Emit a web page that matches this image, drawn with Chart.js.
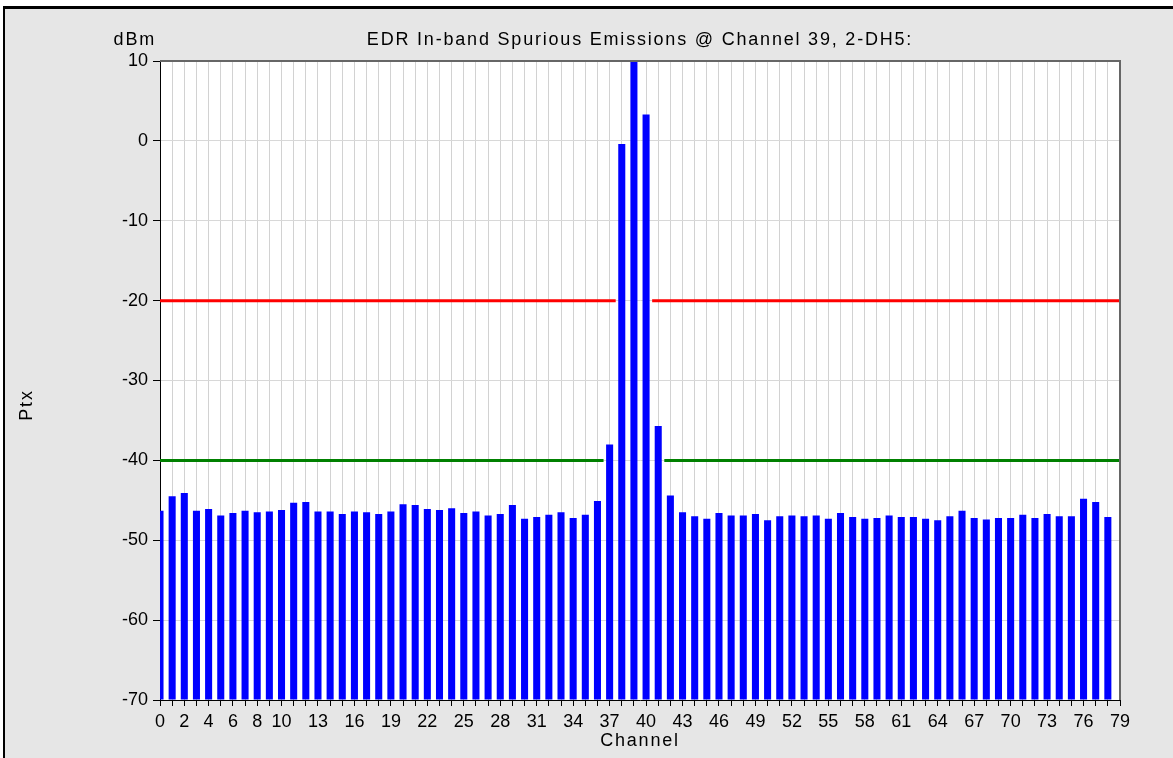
<!DOCTYPE html>
<html>
<head>
<meta charset="utf-8">
<title>EDR In-band Spurious Emissions</title>
<script src="https://cdn.jsdelivr.net/npm/chart.js@4.4.1/dist/chart.umd.min.js"></script>
<style>
    html, body { margin: 0; padding: 0; background: #fff; overflow: hidden; }
    #frame {
        position: absolute; left: 3px; top: 6px;
        width: 1200px; height: 800px;
        border-left: 2px solid #000; border-top: 3px solid #000;
        background: #e6e6e6;
    }
    #wrap { position: absolute; left: 0; top: 0; width: 1173px; height: 758px; }
</style>
</head>
<body>
<div id="frame"></div>
<div id="wrap"><canvas id="spurChart" width="1173" height="758"></canvas></div>
<script>
//measured power per channel (dBm), channel 0..78, nothing drawn at 79
const ptx = [
    -46.3, -44.5, -44.1, -46.3, -46.1, -46.9, -46.6, -46.3, -46.5, -46.4,
    -46.2, -45.3, -45.2, -46.4, -46.4, -46.7, -46.4, -46.5, -46.7, -46.4,
    -45.5, -45.6, -46.1, -46.2, -46.0, -46.6, -46.4, -46.9, -46.7, -45.6,
    -47.3, -47.1, -46.8, -46.5, -47.2, -46.8, -45.1, -38.0, -0.4, 10.0,
    3.3, -35.7, -44.4, -46.5, -47.0, -47.3, -46.6, -46.9, -46.9, -46.7,
    -47.5, -47.0, -46.9, -47.0, -46.9, -47.3, -46.6, -47.1, -47.3, -47.2,
    -46.9, -47.1, -47.1, -47.3, -47.5, -47.0, -46.3, -47.2, -47.4, -47.2,
    -47.2, -46.8, -47.2, -46.7, -47.0, -47.0, -44.8, -45.2, -47.1
];

//tick labels shown on the channel axis
const tickLabels = [0, 2, 4, 6, 8, 10, 13, 16, 19, 22, 25, 28, 31, 34, 37, 40,
    43, 46, 49, 52, 55, 58, 61, 64, 67, 70, 73, 76, 79];

//limit lines: level and the channel spans where they are drawn
const redLimit = -20;
const redSpans = [[0, 37.5], [40.5, 79]];
const greenLimit = -40;
const greenSpans = [[0, 36.5], [41.5, 79]];

const FONT = '"Liberation Sans", Arial, sans-serif';

function limitData(level, spans) {
    let pts = [];
    for (let i = 0; i < spans.length; ++i) {
        if (i > 0)
            pts.push({ x: spans[i][0], y: null });
        pts.push({ x: spans[i][0], y: level });
        pts.push({ x: spans[i][1], y: level });
    }
    return pts;
}

const barData = ptx.map((v, i) => ({ x: i, y: v }));

/*
 * texts and plot frame
 */
const decorPlugin = {
    id: 'decor',
    beforeDraw(chart) {
        const a = chart.chartArea, ctx = chart.ctx;
        ctx.save();
        ctx.fillStyle = '#fff';
        ctx.fillRect(a.left, a.top, a.right - a.left, a.bottom - a.top);
        ctx.restore();
    },
    afterDraw(chart) {
        const a = chart.chartArea, ctx = chart.ctx;
        ctx.save();
        ctx.strokeStyle = '#666';
        ctx.lineWidth = 2;
        ctx.beginPath();
        ctx.moveTo(a.left, a.top);
        ctx.lineTo(a.right, a.top);
        ctx.lineTo(a.right, a.bottom);
        ctx.stroke();

        ctx.fillStyle = '#000';
        ctx.font = '18px ' + FONT;
        ctx.letterSpacing = '1.8px';
        ctx.textBaseline = 'alphabetic';
        ctx.textAlign = 'center';
        ctx.fillText('EDR In-band Spurious Emissions @ Channel 39, 2-DH5:', (a.left + a.right) / 2, 45);
        ctx.fillText('Channel', (a.left + a.right) / 2, 746);
        ctx.textAlign = 'right';
        ctx.fillText('dBm', 156, 45);

        ctx.translate(32, 405);
        ctx.rotate(-Math.PI / 2);
        ctx.textAlign = 'center';
        ctx.fillText('Ptx', 0, 0);
        ctx.restore();
    }
};

const ctx = document.getElementById('spurChart').getContext('2d');
const spurChart = new Chart(ctx, {
    type: 'bar',
    data: {
        datasets: [
            {
                type: 'line',
                data: limitData(redLimit, redSpans),
                borderColor: '#ff0000',
                borderWidth: 3,
                pointRadius: 0,
                spanGaps: false,
                order: 0,
            }, {
                type: 'line',
                data: limitData(greenLimit, greenSpans),
                borderColor: '#008000',
                borderWidth: 3,
                pointRadius: 0,
                spanGaps: false,
                order: 0,
            }, {
                type: 'bar',
                data: barData,
                base: -70,
                backgroundColor: '#0000ff',
                borderWidth: 0,
                barPercentage: 0.58,
                categoryPercentage: 1,
                clip: 0,
                order: 1,
            }
        ]
    },
    options: {
        responsive: false,
        animation: false,
        events: [],
        layout: {
            padding: { left: 0, top: 61, right: 53, bottom: 0 }
        },
        plugins: {
            legend: { display: false },
            title: { display: false },
            tooltip: { enabled: false },
        },
        scales: {
            x: {
                type: 'linear',
                min: 0,
                max: 79,
                offset: false,
                afterFit: (scale) => { scale.height = 58; },
                ticks: {
                    stepSize: 1,
                    autoSkip: false,
                    maxRotation: 0,
                    padding: 5,
                    color: '#000',
                    font: { family: FONT, size: 18 },
                    callback: (v) => tickLabels.includes(v) ? String(v) : '',
                },
                grid: {
                    offset: false,
                    color: '#d2d2d2',
                    tickColor: '#000',
                    tickLength: 6,
                },
                border: { color: '#000', width: 1 },
            },
            y: {
                min: -70,
                max: 10,
                afterFit: (scale) => { scale.width = 160; },
                ticks: {
                    stepSize: 10,
                    padding: 5,
                    color: '#000',
                    font: { family: FONT, size: 18 },
                },
                grid: {
                    color: '#d8d8d8',
                    tickColor: '#000',
                    tickLength: 7,
                },
                border: { color: '#000', width: 1 },
            }
        }
    },
    plugins: [decorPlugin],
});
</script>
</body>
</html>
